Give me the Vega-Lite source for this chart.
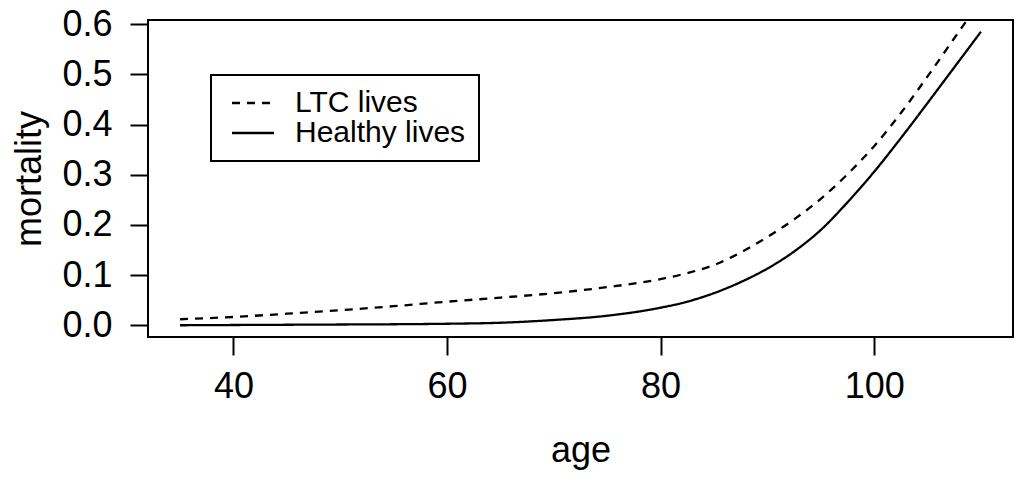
{
  "$schema": "https://vega.github.io/schema/vega-lite/v6.json",
  "width": 865,
  "height": 317,
  "autosize": "none",
  "padding": {"left": 148, "top": 20, "right": 11, "bottom": 149},
  "background": "white",
  "config": {
    "font": "Liberation Sans",
    "view": {"stroke": "black", "strokeWidth": 2},
    "legend": {"strokeWidth": 2},
    "axis": {
      "domain": false,
      "grid": false,
      "tickColor": "black",
      "tickWidth": 2,
      "tickSize": 18,
      "labelColor": "black",
      "labelFont": "Liberation Sans",
      "labelFontSize": 36,
      "titleFont": "Liberation Sans",
      "titleFontSize": 36,
      "titleFontWeight": "normal",
      "titleColor": "black"
    }
  },
  "data": {
    "values": [
      {"age": 35, "mortality": 0.000, "group": "Healthy lives"},
      {"age": 40, "mortality": 0.0005, "group": "Healthy lives"},
      {"age": 45, "mortality": 0.001, "group": "Healthy lives"},
      {"age": 50, "mortality": 0.0015, "group": "Healthy lives"},
      {"age": 55, "mortality": 0.002, "group": "Healthy lives"},
      {"age": 60, "mortality": 0.003, "group": "Healthy lives"},
      {"age": 65, "mortality": 0.005, "group": "Healthy lives"},
      {"age": 70, "mortality": 0.0105, "group": "Healthy lives"},
      {"age": 75, "mortality": 0.019, "group": "Healthy lives"},
      {"age": 80, "mortality": 0.035, "group": "Healthy lives"},
      {"age": 82.5, "mortality": 0.047, "group": "Healthy lives"},
      {"age": 85, "mortality": 0.064, "group": "Healthy lives"},
      {"age": 87.5, "mortality": 0.086, "group": "Healthy lives"},
      {"age": 90, "mortality": 0.113, "group": "Healthy lives"},
      {"age": 92.5, "mortality": 0.147, "group": "Healthy lives"},
      {"age": 95, "mortality": 0.19, "group": "Healthy lives"},
      {"age": 97.5, "mortality": 0.245, "group": "Healthy lives"},
      {"age": 100, "mortality": 0.306, "group": "Healthy lives"},
      {"age": 102.5, "mortality": 0.373, "group": "Healthy lives"},
      {"age": 105, "mortality": 0.443, "group": "Healthy lives"},
      {"age": 107.5, "mortality": 0.514, "group": "Healthy lives"},
      {"age": 110, "mortality": 0.585, "group": "Healthy lives"},
      {"age": 35, "mortality": 0.012, "group": "LTC lives"},
      {"age": 40, "mortality": 0.0165, "group": "LTC lives"},
      {"age": 45, "mortality": 0.023, "group": "LTC lives"},
      {"age": 50, "mortality": 0.030, "group": "LTC lives"},
      {"age": 55, "mortality": 0.038, "group": "LTC lives"},
      {"age": 60, "mortality": 0.047, "group": "LTC lives"},
      {"age": 65, "mortality": 0.055, "group": "LTC lives"},
      {"age": 70, "mortality": 0.064, "group": "LTC lives"},
      {"age": 75, "mortality": 0.076, "group": "LTC lives"},
      {"age": 80, "mortality": 0.092, "group": "LTC lives"},
      {"age": 82.5, "mortality": 0.104, "group": "LTC lives"},
      {"age": 85, "mortality": 0.12, "group": "LTC lives"},
      {"age": 87.5, "mortality": 0.145, "group": "LTC lives"},
      {"age": 90, "mortality": 0.176, "group": "LTC lives"},
      {"age": 92.5, "mortality": 0.211, "group": "LTC lives"},
      {"age": 95, "mortality": 0.252, "group": "LTC lives"},
      {"age": 97.5, "mortality": 0.301, "group": "LTC lives"},
      {"age": 100, "mortality": 0.357, "group": "LTC lives"},
      {"age": 102.5, "mortality": 0.423, "group": "LTC lives"},
      {"age": 105, "mortality": 0.496, "group": "LTC lives"},
      {"age": 107.5, "mortality": 0.572, "group": "LTC lives"},
      {"age": 110, "mortality": 0.648, "group": "LTC lives"}
    ]
  },
  "mark": {"type": "line", "clip": true, "color": "black", "strokeWidth": 2.3, "interpolate": "monotone"},
  "encoding": {
    "x": {
      "field": "age", "type": "quantitative",
      "scale": {"domain": [32, 113], "nice": false, "zero": false},
      "axis": {"values": [40, 60, 80, 100], "title": "age", "labelPadding": 14, "titlePadding": 29}
    },
    "y": {
      "field": "mortality", "type": "quantitative",
      "scale": {"domain": [-0.0234, 0.6084], "nice": false, "zero": false},
      "axis": {"values": [0, 0.1, 0.2, 0.3, 0.4, 0.5, 0.6], "format": ".1f", "title": "mortality", "labelPadding": 18, "titlePadding": 13}
    },
    "strokeDash": {
      "field": "group", "type": "nominal",
      "scale": {"domain": ["LTC lives", "Healthy lives"], "range": [[8, 7], [1, 0]]},
      "legend": {
        "orient": "none",
        "legendX": 63,
        "legendY": 55,
        "title": null,
        "strokeColor": "black",
        "padding": 13,
        "symbolType": "M-2.1,0H2.1",
        "symbolSize": 400,
        "symbolOffset": 14,
        "symbolStrokeColor": "black",
        "symbolStrokeWidth": 2.3,
        "labelFontSize": 30,
        "labelColor": "black",
        "labelOffset": 27,
        "rowPadding": -6,
        "labelLimit": 400
      }
    }
  }
}
